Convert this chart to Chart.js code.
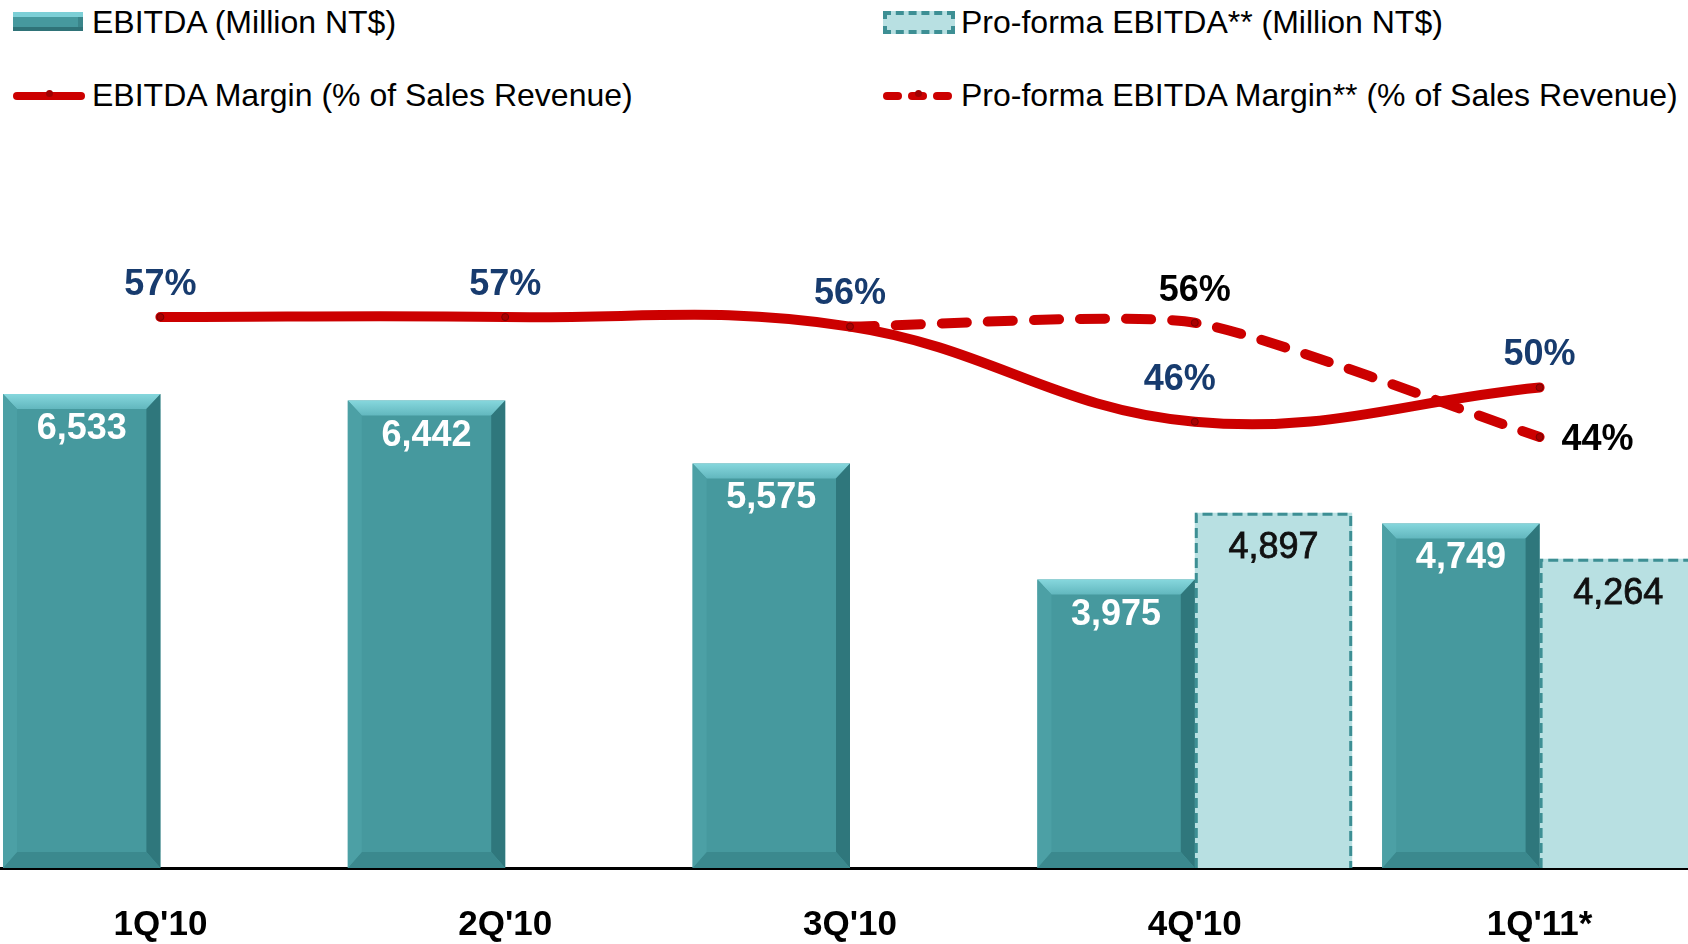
<!DOCTYPE html>
<html>
<head>
<meta charset="utf-8">
<script src="https://cdn.jsdelivr.net/npm/chart.js@4.4.1/dist/chart.umd.min.js"></script>
<style>
  html, body { margin: 0; padding: 0; background: #fff; overflow: hidden; }
  body { width: 1688px; height: 944px; position: relative; font-family: "Liberation Sans", Arial, sans-serif; }
  #chart { position: absolute; left: -12px; top: 0; }
  .lg { position: absolute; font-size: 32px; line-height: 32px; color: #000; white-space: nowrap; }
  .sw { position: absolute; }
  .sw-bar { width: 70px; height: 19px; background: #46999e;
    box-shadow: inset 0 5px 0 #7ccfd6, inset 0 -4px 0 #2f7378, inset -5px 0 0 #3a858a; }
  .sw-pf { width: 64px; height: 15px; background: #b8e0e2; border: 4px dashed #3d8f94; }
  .sw-line { width: 72px; height: 8px; background: #cc0000; border-radius: 4px; }
  .dot { position: absolute; width: 7px; height: 7px; border-radius: 50%; background: #a00000; }
  .dash { position: absolute; width: 19px; height: 8px; background: #cc0000; border-radius: 4px; }
</style>
</head>
<body>
<div class="sw sw-bar" style="left:13px;top:12px"></div>
<div class="lg" style="left:92px;top:6px">EBITDA (Million NT$)</div>
<div class="sw sw-line" style="left:13px;top:92px"><div class="dot" style="left:33px;top:-2px"></div></div>
<div class="lg" style="left:92px;top:79px">EBITDA Margin (% of Sales Revenue)</div>
<div class="sw sw-pf" style="left:883px;top:11px"></div>
<div class="lg" style="left:961px;top:6px">Pro-forma EBITDA** (Million NT$)</div>
<div class="sw" style="left:883px;top:92px;width:72px;height:8px">
  <div class="dash" style="left:0"></div><div class="dash" style="left:25px"></div><div class="dash" style="left:50px"></div>
  <div class="dot" style="left:32px;top:-2px"></div>
</div>
<div class="lg" style="left:961px;top:79px">Pro-forma EBITDA Margin** (% of Sales Revenue)</div>

<canvas id="chart" width="1724" height="944"></canvas>
<script>
const quarters = ["1Q'10", "2Q'10", "3Q'10", "4Q'10", "1Q'11*"];
const ebitda = [6533, 6442, 5575, 3975, 4749];
const proformaEbitda = [null, null, null, 4897, 4264];
const ebitdaMargin = [57, 57, 56, 46, 49.6];
const proformaMargin = [null, null, 56, 56.4, 44.4];

const FONT = '"Liberation Sans", Arial, sans-serif';
const NAVY = '#173b6e';
const RED = '#cc0000';

// label shifts for the % labels (dx, dy) where the default "above" does not fit
const marginShift = { 2: { 3: [-15, -42] }, 3: { 4: [58, 3] } };

const barLook = {
  id: 'barLook',
  afterDatasetDraw(chart, args) {
    const ctx = chart.ctx;
    const meta = args.meta;
    if (args.index === 0) {
      meta.data.forEach((bar, i) => {
        if (ebitda[i] == null) return;
        const p = bar.getProps(['x', 'y', 'base', 'width'], true);
        const l = p.x - p.width / 2, r = p.x + p.width / 2, t = p.y, b = p.base;
        const bt = 15, bs = 14, bb = 16;
        ctx.save();
        const g = ctx.createLinearGradient(0, t, 0, t + bt);
        g.addColorStop(0, '#86d7dd');
        g.addColorStop(1, '#62b7be');
        ctx.fillStyle = g;
        ctx.beginPath();
        ctx.moveTo(l, t); ctx.lineTo(r, t); ctx.lineTo(r - bs, t + bt); ctx.lineTo(l + bs, t + bt);
        ctx.closePath(); ctx.fill();
        ctx.fillStyle = '#2f777c';
        ctx.beginPath();
        ctx.moveTo(r, t); ctx.lineTo(r, b); ctx.lineTo(r - bs, b - bb); ctx.lineTo(r - bs, t + bt);
        ctx.closePath(); ctx.fill();
        ctx.fillStyle = '#3b898e';
        ctx.beginPath();
        ctx.moveTo(l, b); ctx.lineTo(r, b); ctx.lineTo(r - bs, b - bb); ctx.lineTo(l + bs, b - bb);
        ctx.closePath(); ctx.fill();
        ctx.fillStyle = '#4ca0a5';
        ctx.beginPath();
        ctx.moveTo(l, t); ctx.lineTo(l + bs, t + bt); ctx.lineTo(l + bs, b - bb); ctx.lineTo(l, b);
        ctx.closePath(); ctx.fill();
        ctx.restore();
      });
    }
    if (args.index === 1) {
      meta.data.forEach((bar, i) => {
        if (proformaEbitda[i] == null) return;
        const p = bar.getProps(['x', 'y', 'base', 'width'], true);
        const l = p.x - p.width / 2 + 1.5, r = p.x + p.width / 2 - 1.5, t = p.y + 1.5, b = p.base;
        ctx.save();
        ctx.strokeStyle = '#3d8f94';
        ctx.lineWidth = 3;
        ctx.setLineDash([10, 5]);
        ctx.beginPath();
        ctx.moveTo(l, b); ctx.lineTo(l, t); ctx.lineTo(r, t); ctx.lineTo(r, b);
        ctx.stroke();
        ctx.restore();
      });
    }
  },
  afterDatasetsDraw(chart) {
    const ctx = chart.ctx;
    ctx.save();
    ctx.textAlign = 'center';
    ctx.textBaseline = 'middle';
    // bar values
    [[0, ebitda, '#ffffff', 'bold'], [1, proformaEbitda, '#111111', 'normal']].forEach(([di, vals, col, w]) => {
      chart.getDatasetMeta(di).data.forEach((bar, i) => {
        if (vals[i] == null) return;
        const txt = vals[i].toLocaleString('en-US');
        ctx.font = w + ' 36px ' + FONT;
        ctx.fillStyle = col;
        ctx.fillText(txt, bar.x, bar.y + 35);
        if (w === 'normal') {
          ctx.strokeStyle = col;
          ctx.lineWidth = 0.8;
          ctx.strokeText(txt, bar.x, bar.y + 35);
        }
      });
    });
    // margin labels
    [[2, ebitdaMargin, NAVY], [3, proformaMargin, '#000000']].forEach(([di, vals, col]) => {
      chart.getDatasetMeta(di).data.forEach((pt, i) => {
        if (vals[i] == null) return;
        if (di === 3 && ebitdaMargin[i] === vals[i]) return;
        const s = (marginShift[di] && marginShift[di][i]) || [0, -32];
        ctx.font = 'bold 36px ' + FONT;
        ctx.fillStyle = col;
        ctx.fillText(Math.round(vals[i]) + '%', pt.x + s[0], pt.y + s[1]);
      });
    });
    ctx.restore();
  }
};

new Chart(document.getElementById('chart'), {
  type: 'bar',
  data: {
    labels: quarters,
    datasets: [
      {
        label: 'EBITDA (Million NT$)',
        data: ebitda,
        backgroundColor: '#46999e',
        borderWidth: 0,
        yAxisID: 'y',
        order: 2,
        categoryPercentage: 0.913,
        barPercentage: 1
      },
      {
        label: 'Pro-forma EBITDA** (Million NT$)',
        data: proformaEbitda,
        backgroundColor: '#b8e0e2',
        borderWidth: 0,
        yAxisID: 'y',
        order: 2,
        categoryPercentage: 0.913,
        barPercentage: 1
      },
      {
        type: 'line',
        label: 'EBITDA Margin (% of Sales Revenue)',
        data: ebitdaMargin,
        borderColor: RED,
        borderWidth: 10,
        borderCapStyle: 'round',
        tension: 0.4,
        pointRadius: 3.5,
        pointBackgroundColor: '#a80000',
        pointBorderColor: '#7a0000',
        pointBorderWidth: 1,
        yAxisID: 'y2',
        order: 0
      },
      {
        type: 'line',
        label: 'Pro-forma EBITDA Margin** (% of Sales Revenue)',
        data: proformaMargin,
        borderColor: RED,
        borderWidth: 10,
        borderDash: [25, 21],
        borderCapStyle: 'round',
        tension: 0.2,
        pointRadius: 3.5,
        pointBackgroundColor: '#a80000',
        pointBorderColor: '#7a0000',
        pointBorderWidth: 1,
        yAxisID: 'y2',
        order: 1
      }
    ]
  },
  options: {
    responsive: false,
    animation: false,
    layout: { autoPadding: false, padding: { top: 140, left: 0, right: 0, bottom: 0 } },
    plugins: { legend: { display: false }, tooltip: { enabled: false } },
    scales: {
      x: {
        grid: { display: false, drawTicks: false },
        border: { display: true, color: '#000', width: 3 },
        ticks: { color: '#000', padding: 36, font: { family: FONT, size: 35, weight: 'bold' } },
        afterFit(scale) { scale.height = 76; }
      },
      y: { display: false, min: 0, max: 10034 },
      y2: { display: false, min: -0.88, max: 75.6 }
    }
  },
  plugins: [barLook]
});
</script>
</body>
</html>
